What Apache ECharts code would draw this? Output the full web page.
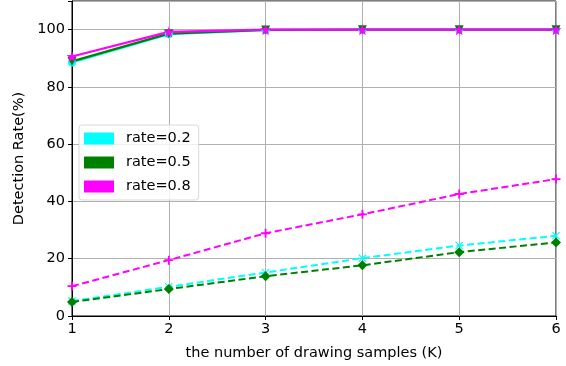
<!DOCTYPE html>
<html><head><meta charset="utf-8">
<script src="https://cdn.jsdelivr.net/npm/echarts@6/dist/echarts.min.js"></script>
<style>html,body{margin:0;padding:0;background:#fff}#c{width:566px;height:366px}</style>
</head><body><div id="c"></div>
<script>
const categories = [1, 2, 3, 4, 5, 6];
const yTicks = [0, 20, 40, 60, 80, 100];
const solid02 = [88.5, 98.4, 99.8, 100, 100, 100];
const solid05 = [88.9, 98.6, 99.9, 100, 100, 100];
const solid08 = [90.6, 99.2, 100, 100, 100, 100];
const dash02 = [5.2, 10.2, 15.2, 20.2, 24.6, 28.0];
const dash05 = [4.9, 9.4, 13.9, 17.7, 22.3, 25.7];
const dash08 = [10.4, 19.5, 28.9, 35.5, 42.6, 47.8];
const names = ['rate=0.2', 'rate=0.5', 'rate=0.8'];
const colors = ['#00ffff', '#008000', '#ff00ff'];

const plusPath = 'path://M4,0H6V4H10V6H6V10H4V6H0V4H4Z';
const crossPath = 'path://M1,0L5,4L9,0L10,1L6,5L10,9L9,10L5,6L1,10L0,9L4,5L0,1Z';
const starPath = 'path://M5,0L6.2,3.5L10,3.6L7,5.9L8.1,9.5L5,7.4L1.9,9.5L3,5.9L0,3.6L3.8,3.5Z';

function pts(arr){ return categories.map((c,i)=>[c, arr[i]]); }
function solid(name, data, color, symbol, size, rot){
  return {name, type:'line', data:pts(data), lineStyle:{color, width:2.2, type:'solid'},
    itemStyle:{color}, symbol, symbolSize:size, symbolRotate:rot||0, showSymbol:true, z:3};
}
function dashed(data, color, symbol, size){
  return {name:'_'+color, type:'line', data:pts(data), lineStyle:{color, width:2, type:[7,3.5]},
    itemStyle:{color}, symbol, symbolSize:size, showSymbol:true, z:2};
}
const chart = echarts.init(document.getElementById('c'));
chart.setOption({
  animation:false,
  textStyle:{fontFamily:'DejaVu Sans'},
  grid:{left:72, right:10, top:1, bottom:49, show:true, borderColor:'#000', borderWidth:1},
  legend:{data:names, left:79, top:125, orient:'vertical', itemWidth:30, itemHeight:12, itemGap:9,
    icon:'rect', padding:[6,8,6,5], backgroundColor:'rgba(255,255,255,0.8)', borderColor:'#d9d9d9', borderWidth:1, borderRadius:3,
    textStyle:{fontSize:14.5, color:'#000', fontFamily:'DejaVu Sans', padding:[0,0,0,7]}},
  xAxis:{type:'value', min:1, max:6, interval:1,
    name:'the number of drawing samples (K)', nameLocation:'middle', nameGap:30,
    nameTextStyle:{fontSize:14.5, color:'#000'},
    axisLine:{lineStyle:{color:'#000'}}, axisTick:{lineStyle:{color:'#000'}, length:4},
    axisLabel:{fontSize:14.5, color:'#000', margin:6},
    splitLine:{lineStyle:{color:'#b0b0b0', width:1}}},
  yAxis:{type:'value', min:0, max:110, interval:20,
    name:'Detection Rate(%)', nameLocation:'middle', nameGap:44,
    nameTextStyle:{fontSize:14.5, color:'#000'},
    axisLine:{show:true, lineStyle:{color:'#000'}}, axisTick:{show:true, lineStyle:{color:'#000'}, length:4},
    axisLabel:{fontSize:14.5, color:'#000', margin:7, formatter:v=>yTicks.includes(v)?String(v):''},
    splitLine:{lineStyle:{color:'#b0b0b0', width:1}}},
  series:[
    solid(names[0], solid02, colors[0], 'circle', 8),
    solid(names[1], solid05, colors[1], 'triangle', 9, 180),
    solid(names[2], solid08, colors[2], starPath, 11),
    dashed(dash02, colors[0], crossPath, 8),
    dashed(dash05, colors[1], 'diamond', 10),
    dashed(dash08, colors[2], plusPath, 9)
  ]
});
</script></body></html>
